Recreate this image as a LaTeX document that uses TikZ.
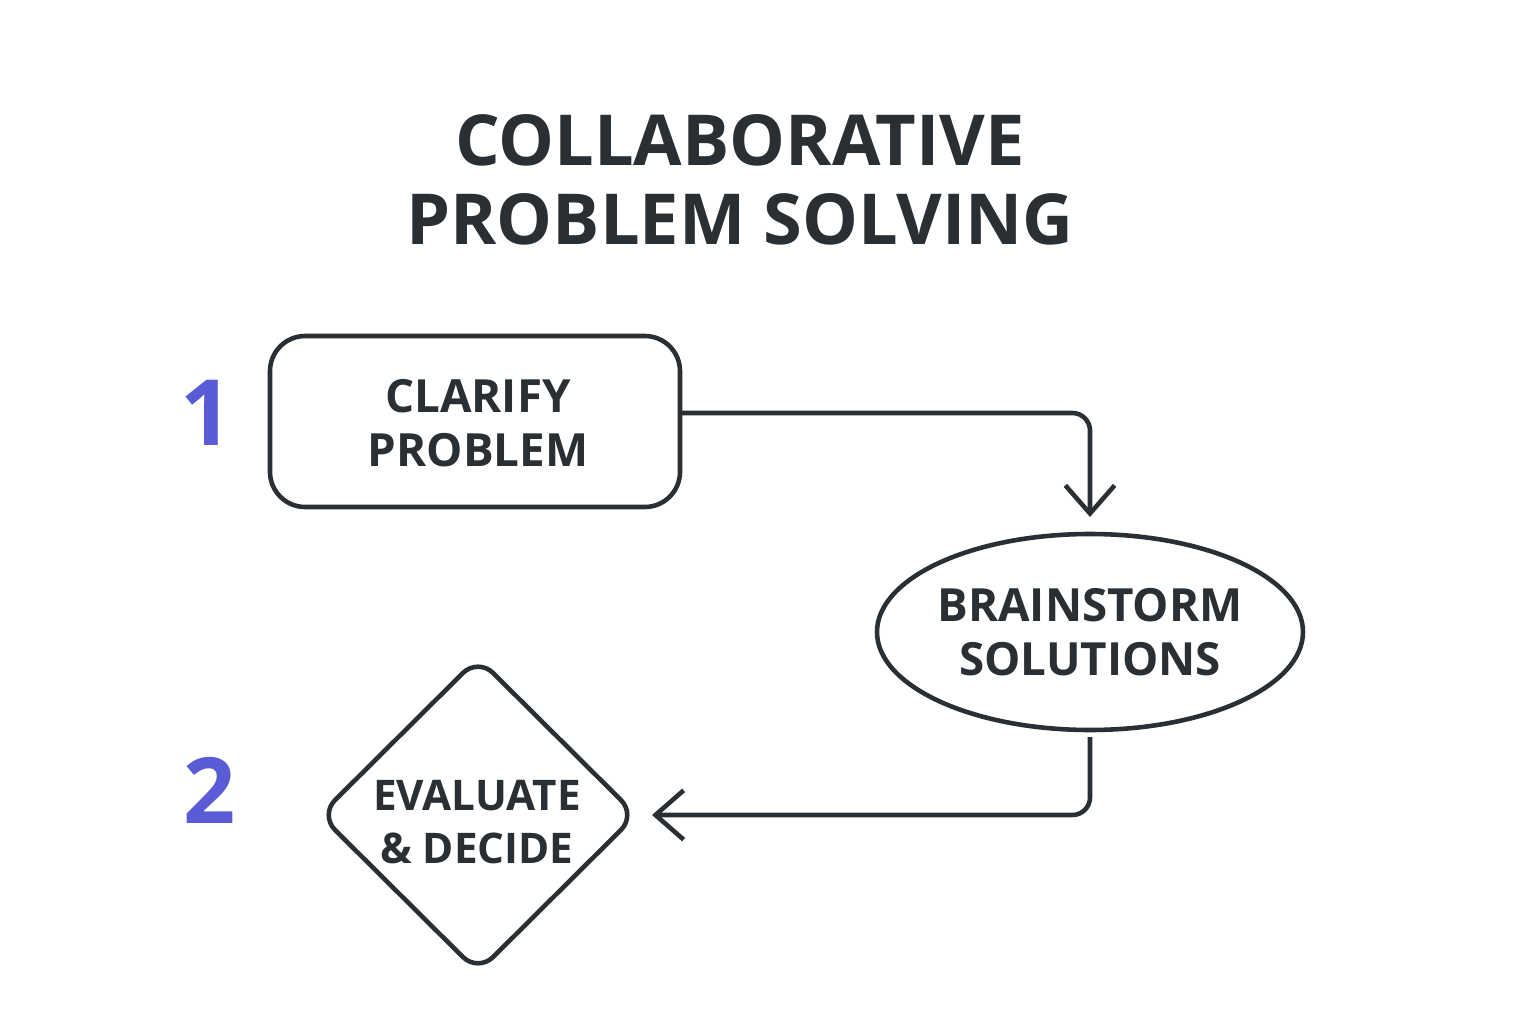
\documentclass[tikz,border=0pt]{standalone}
\usepackage{fontspec}
\setmainfont{Open Sans}
\usetikzlibrary{shapes.geometric,arrows.meta}
\definecolor{ink}{HTML}{2A2F33}
\definecolor{stepnum}{HTML}{5B5BD6}
\begin{document}
\begin{tikzpicture}[x=0.01cm,y=-0.01cm,
  line width=1.3pt,draw=ink,
  every node/.style={text=ink,align=center},
  boxlabel/.style={font=\bfseries\fontsize{13}{15.5}\selectfont},
  numlabel/.style={text=stepnum,font=\bfseries\fontsize{26}{30}\selectfont},
  flow/.style={draw=ink,line width=1.3pt,rounded corners=5pt,-{Straight Barb[length=8pt,width=14pt]}}]
  \fill[white] (0,0) rectangle (1536,1024);
  % title
  \node[font=\bfseries\fontsize{20}{22.5}\selectfont] (title) at (740,180) {COLLABORATIVE\\PROBLEM SOLVING};
  % shapes
  \draw[rounded corners=10pt] (270,336) rectangle (680,507);
  \node[boxlabel] (clarify) at (478,423) {CLARIFY\\PROBLEM};
  \node[boxlabel] (brain) at (1090,632) {BRAINSTORM\\SOLUTIONS};
  \draw (brain.center) ellipse [x radius=213, y radius=98];
  \draw[rounded corners=6pt] (478,658) -- (636,815) -- (478,972) -- (320,815) -- cycle;
  \node[font=\bfseries\fontsize{12}{15}\selectfont] (evaluate) at (477,822) {EVALUATE\\\&\ DECIDE};
  \coordinate (clarifyout) at (680,413);
  \coordinate (brainin) at (1090,517);
  \coordinate (brainout) at (1090,737);
  \coordinate (evalin) at (652,815);
  % step numbers
  \node[numlabel] (one) at (207,413) {1};
  \node[numlabel] (two) at (210,790) {2};
  % connectors
  \draw[flow] (clarifyout) -- (1090,413) -- (brainin);
  \draw[flow] (brainout) -- (1090,815) -- (evalin);
\end{tikzpicture}
\end{document}
